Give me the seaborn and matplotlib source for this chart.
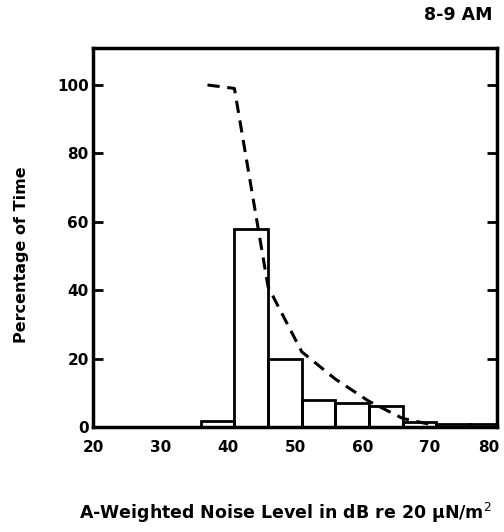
import matplotlib
matplotlib.use("Agg")
import matplotlib.pyplot as plt
import matplotlib.transforms as mtransforms
import seaborn as sns
import numpy as np
import pandas as pd

# Histogram data (percentage of time per 5 dB band)
bin_edges = [36, 41, 46, 51, 56, 61, 66, 71, 76, 80]
bin_pct = [1.8, 58, 20, 8, 7, 6, 1.5, 1.0, 1.0]

# Cumulative (exceedance) curve
cum_level = [37, 41, 46, 51, 56, 61, 66, 70]
cum_pct = [100, 99, 41, 22, 14, 7.5, 2.5, 0.8]

x_ticks = [20, 30, 40, 50, 60, 70, 80]
y_ticks = [0, 20, 40, 60, 80, 100]

sns.set_style("white")
plt.rcParams['font.family'] = ['DejaVu Sans']
plt.rcParams['text.color'] = 'black'

fig = plt.figure(figsize=(5.04, 5.32), dpi=100)
ax = fig.add_axes([93/504, 1-427/532, (497-93)/504, (427-48)/532])

centers = [(bin_edges[i] + bin_edges[i+1]) / 2 for i in range(len(bin_pct))]
hist_df = pd.DataFrame({"level": centers, "pct": bin_pct})
sns.histplot(data=hist_df, x="level", weights="pct", bins=bin_edges, fill=False,
             element="bars", color="black", edgecolor="black", linewidth=2, ax=ax)

cum_df = pd.DataFrame({"level": cum_level, "pct": cum_pct})
sns.lineplot(data=cum_df, x="level", y="pct", color="black", linewidth=2.2, ax=ax)
ax.lines[-1].set_dashes([4, 2.5])

ax.set_xlim(20, 80)
ax.set_ylim(0, (427-48)/3.42)
ax.set_xticks(x_ticks)
ax.set_yticks(y_ticks)
ax.set_xticklabels([str(t) for t in x_ticks], fontsize=11, fontweight='bold', color='black')
ax.set_yticklabels([str(t) for t in y_ticks], fontsize=11, fontweight='bold', color='black')
ax.tick_params(axis='x', direction='out', length=6, width=2, colors='black', pad=3)
ax.tick_params(axis='y', direction='in', length=7, width=2, colors='black',
               left=True, right=True, pad=3)
for s in ax.spines.values():
    s.set_linewidth(2.5)
    s.set_color('black')
ax.set_xlabel("")
ax.set_ylabel("")

# nudge last x tick label left so it stays inside the figure
last = ax.get_xticklabels()[-1]
last.set_transform(last.get_transform() + mtransforms.ScaledTranslation(-8/100, 0, fig.dpi_scale_trans))

fig.text(22/504, 1-255/532, "Percentage of Time", rotation=90, ha='center', va='center',
         fontsize=11.5, fontweight='bold', color='black')
fig.text(285/504, 1-513/532, "A-Weighted Noise Level in dB re 20 \u03bcN/m$^2$",
         ha='center', va='center', fontsize=12.5, fontweight='bold', color='black')
fig.text(493/504, 1-15/532, "8-9 AM", ha='right', va='center', fontsize=12.5,
         fontweight='bold', color='black')

fig.savefig("out.png", dpi=100)
